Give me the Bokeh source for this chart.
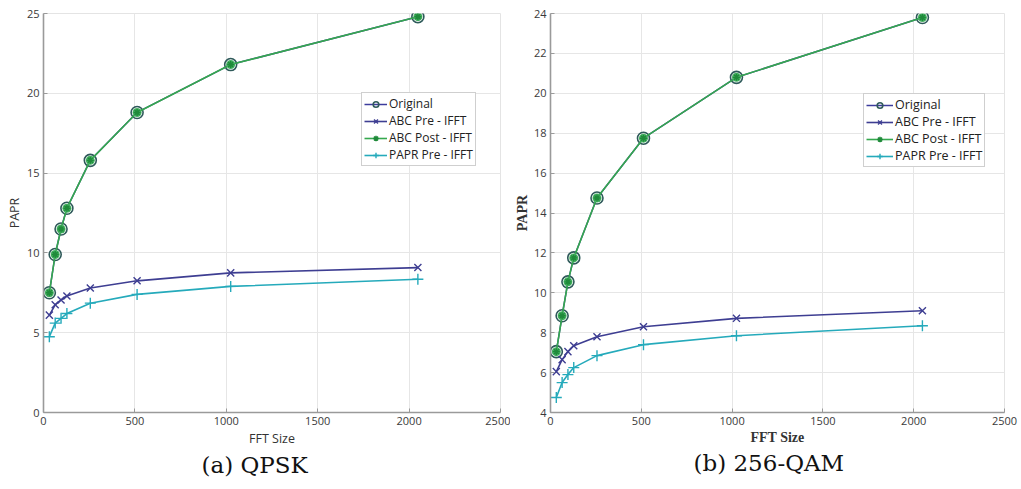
from bokeh.plotting import figure
from bokeh.layouts import row
from bokeh.models import Range1d, Legend, LegendItem, Title, FixedTicker
from bokeh.embed import file_html
from bokeh.resources import INLINE

# FFT sizes evaluated
fft_size = [32, 64, 96, 128, 256, 512, 1024, 2048]

# (a) QPSK
qpsk_original = [7.5, 9.9, 11.5, 12.8, 15.8, 18.8, 21.8, 24.8]
qpsk_abc_pre = [6.1, 6.75, 7.05, 7.3, 7.8, 8.25, 8.75, 9.08]
qpsk_abc_post = [7.5, 9.9, 11.5, 12.8, 15.8, 18.8, 21.8, 24.8]
qpsk_papr_pre = [4.75, 5.6, 5.9, 6.2, 6.85, 7.4, 7.9, 8.35]

# (b) 256-QAM
qam_original = [7.05, 8.85, 10.55, 11.75, 14.75, 17.75, 20.8, 23.8]
qam_abc_pre = [6.05, 6.65, 7.05, 7.35, 7.8, 8.3, 8.72, 9.1]
qam_abc_post = [7.05, 8.85, 10.55, 11.75, 14.75, 17.75, 20.8, 23.8]
qam_papr_pre = [4.75, 5.5, 5.9, 6.25, 6.85, 7.4, 7.85, 8.35]

x_ticks = [0, 500, 1000, 1500, 2000, 2500]
qpsk_y_ticks = [0, 5, 10, 15, 20, 25]
qam_y_ticks = [4, 6, 8, 10, 12, 14, 16, 18, 20, 22, 24]

series_names = ["Original", "ABC Pre - IFFT", "ABC Post - IFFT", "PAPR Pre - IFFT"]

C_ORIG = "#3c3c9c"
C_PRE = "#3e3e92"
C_POST = "#35a84e"
C_PAPR = "#25aabb"

SANS = "Open Sans"
SERIF = "Liberation Serif"


def make_panel(width, borders, y_range, y_ticks, data, label_font, label_size,
               label_style, legend_loc, legend_font, legend_glyph_w,
               caption, caption_offset):
    left, right, top, bottom = borders
    p = figure(width=width, height=489, x_range=Range1d(0, 2500), y_range=Range1d(*y_range),
               output_backend="svg", toolbar_location=None, title=None,
               min_border_left=left, min_border_right=right,
               min_border_top=top, min_border_bottom=bottom)
    p.outline_line_color = "#e4e4e4"
    p.background_fill_color = "white"
    p.border_fill_color = "white"

    p.xaxis.ticker = FixedTicker(ticks=x_ticks)
    p.yaxis.ticker = FixedTicker(ticks=y_ticks)
    for ax in (p.xaxis[0], p.yaxis[0]):
        ax.axis_line_color = "#9a9a9a"
        ax.axis_line_width = 1.6
        ax.major_tick_line_color = "#9a9a9a"
        ax.major_tick_in = 4
        ax.major_tick_out = 0
        ax.minor_tick_line_color = None
        ax.major_label_text_font = SANS
        ax.major_label_text_font_size = "11px"
        ax.major_label_text_color = "#3a3a3a"
        ax.axis_label_text_font = label_font
        ax.axis_label_text_font_size = label_size
        ax.axis_label_text_font_style = label_style
        ax.axis_label_text_color = "#333333"
    p.xaxis.axis_label = "FFT Size"
    p.yaxis.axis_label = "PAPR"
    p.xaxis.major_label_standoff = 4
    p.yaxis.major_label_standoff = 4
    p.xaxis.axis_label_standoff = 2
    p.yaxis.axis_label_standoff = 1

    p.xgrid.grid_line_color = "#e6e6e6"
    p.ygrid.grid_line_color = "#e6e6e6"

    orig, pre, post, papr = data

    l0 = p.line(fft_size, orig, line_color=C_ORIG, line_width=1.5)
    m0 = p.scatter(fft_size, orig, marker="circle", size=12, line_color="#2f5a5a",
                   line_width=1.6, fill_color=None)
    l1 = p.line(fft_size, pre, line_color=C_PRE, line_width=1.6)
    m1 = p.scatter(fft_size, pre, marker="x", size=10, line_color=C_PRE, line_width=1.4)
    l2 = p.line(fft_size, post, line_color=C_POST, line_width=1.6)
    p.scatter(fft_size, post, marker="circle", size=9, line_color=None,
              fill_color="#45b262")
    m2 = p.scatter(fft_size, post, marker="asterisk", size=7, line_color="#1f8a3a",
                   line_width=1.4)
    l3 = p.line(fft_size, papr, line_color=C_PAPR, line_width=1.6)
    m3 = p.scatter(fft_size, papr, marker="cross", size=11, line_color=C_PAPR, line_width=1.4)

    legend = Legend(items=[
        LegendItem(label=series_names[0], renderers=[l0, m0]),
        LegendItem(label=series_names[1], renderers=[l1, m1]),
        LegendItem(label=series_names[2], renderers=[l2, m2]),
        LegendItem(label=series_names[3], renderers=[l3, m3]),
    ], location=legend_loc)
    legend.label_text_font = SANS
    legend.label_text_font_size = legend_font
    legend.label_text_color = "#222222"
    legend.label_height = 14
    legend.glyph_height = 14
    legend.glyph_width = legend_glyph_w
    legend.label_standoff = 2
    legend.spacing = 0
    legend.padding = 2
    legend.margin = 0
    legend.border_line_color = "#a0a0a0"
    legend.border_line_width = 1
    legend.background_fill_alpha = 1
    p.add_layout(legend, "center")

    # Sub-figure caption underneath the axis label
    cap = Title(text=caption, align="left", offset=caption_offset,
                text_font="DejaVu Serif", text_font_size="23px",
                text_font_style="normal", text_color="#111111",
                standoff=0)
    p.add_layout(cap, "below")
    return p


p1 = make_panel(510, (43, 10, 9, 77), (0, 25), qpsk_y_ticks,
                (qpsk_original, qpsk_abc_pre, qpsk_abc_post, qpsk_papr_pre),
                SANS, "12.5px", "normal", (318, 246), "12px", 23,
                "(a) QPSK", 158)
p2 = make_panel(511, (40, 17, 13, 75), (4, 24), qam_y_ticks,
                (qam_original, qam_abc_pre, qam_abc_post, qam_papr_pre),
                SERIF, "14px", "bold", (313, 245), "12.5px", 27,
                "(b) 256-QAM", 143)

layout = row(p1, p2)
open("out.html", "w").write(file_html(layout, INLINE))
